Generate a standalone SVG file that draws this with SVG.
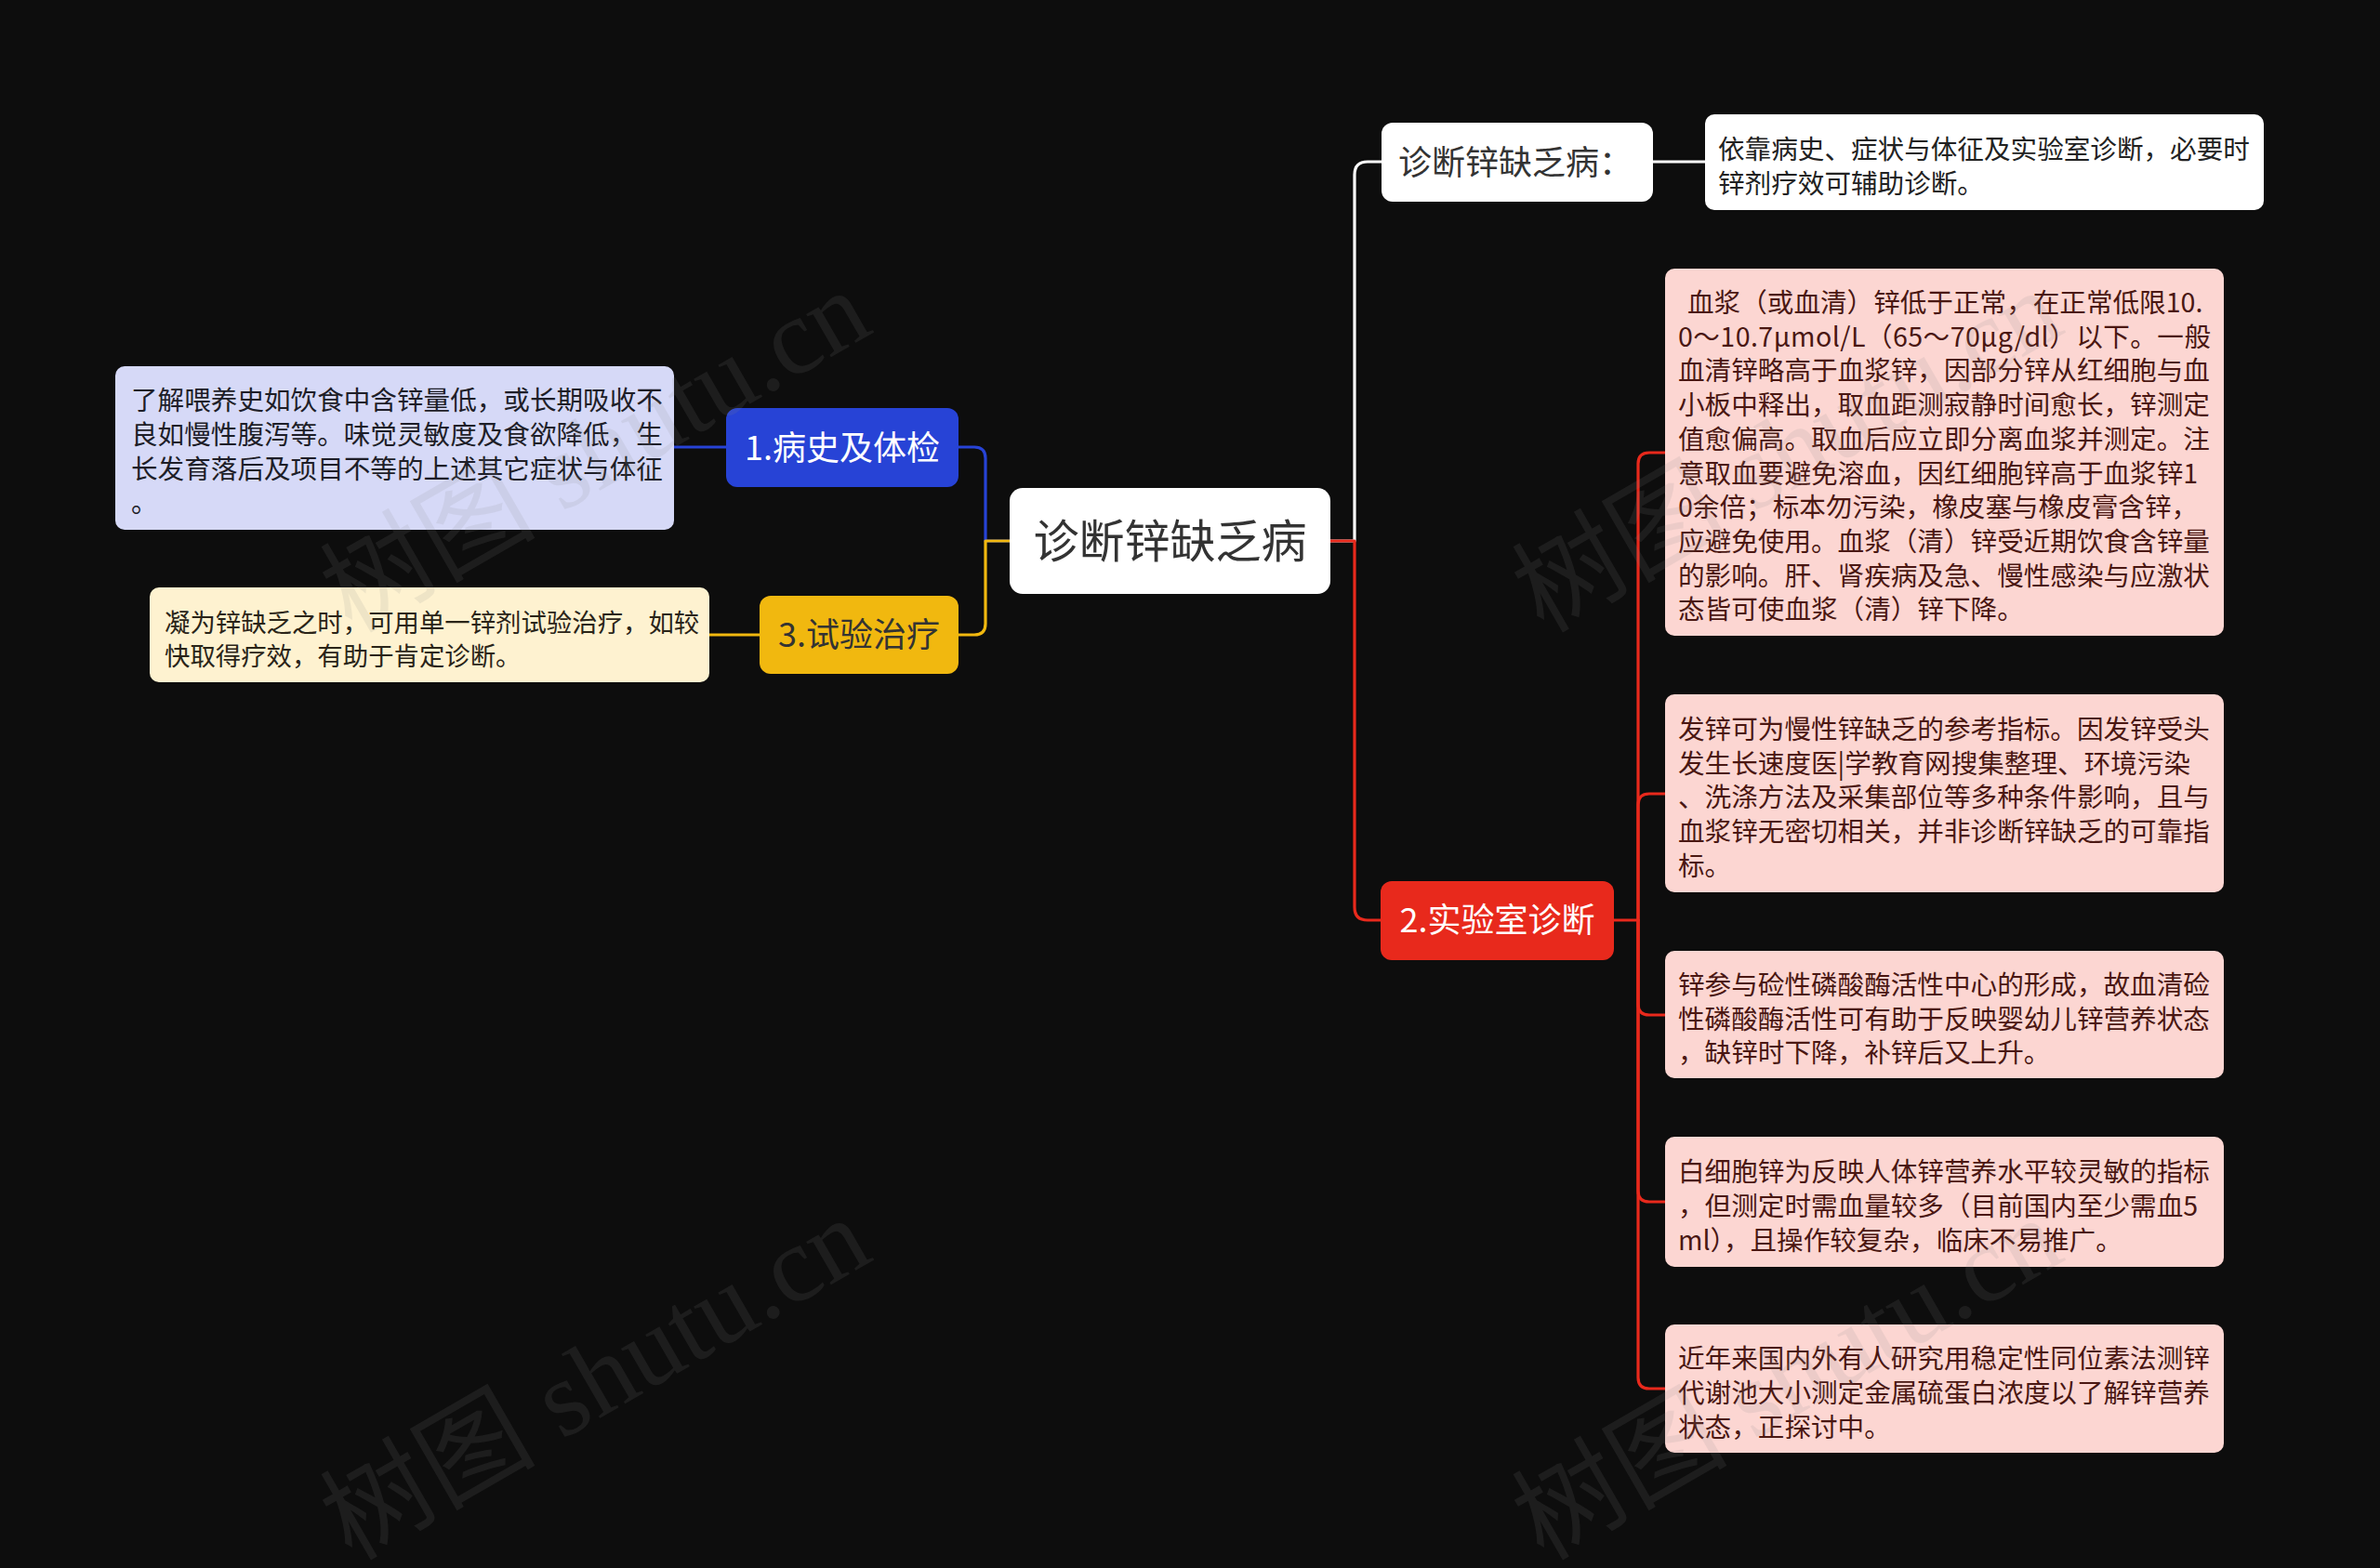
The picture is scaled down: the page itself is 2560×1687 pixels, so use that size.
<svg xmlns="http://www.w3.org/2000/svg" width="2560" height="1687" viewBox="0 0 2560 1687">
<style>
.bg{fill:#0d0d0d}
.cjk{font-family:"Noto Sans CJK SC","Noto Sans",sans-serif}
.leaf{font-size:28.6px}
.n1{font-size:36px}
.ctr{font-size:49px}
.conn{fill:none;stroke-width:3.2;stroke-linecap:round;stroke-linejoin:round}
.wm{font-family:"Liberation Serif","Noto Sans CJK SC",serif;font-size:116px;fill:#8a8a8a;opacity:0.13}
</style>
<rect class="bg" x="0" y="0" width="2560" height="1687"/>

<g id="connectors">
  <path class="conn" stroke="#2743d6" d="M1086,582 H1060 V493 Q1060,481 1048,481 H1031"/>
  <path class="conn" stroke="#2743d6" d="M781,481 H725"/>
  <path class="conn" stroke="#f1b80f" d="M1086,582 H1060 V671 Q1060,683 1048,683 H1031"/>
  <path class="conn" stroke="#f1b80f" d="M817,683 H763"/>
  <path class="conn" stroke="#ffffff" d="M1431,582 H1457 V188 Q1457,174 1471,174 H1486"/>
  <path class="conn" stroke="#ffffff" d="M1778,174 H1834"/>
  <path class="conn" stroke="#e8291c" d="M1431,582 H1457 V976 Q1457,990 1471,990 H1485"/>
  <path class="conn" stroke="#e8291c" d="M1736,990 H1762"/>
  <path class="conn" stroke="#e8291c" d="M1762,990 V499 Q1762,487 1774,487 H1791"/>
  <path class="conn" stroke="#e8291c" d="M1762,990 V866 Q1762,854 1774,854 H1791"/>
  <path class="conn" stroke="#e8291c" d="M1762,990 V1080 Q1762,1092 1774,1092 H1791"/>
  <path class="conn" stroke="#e8291c" d="M1762,990 V1281 Q1762,1293 1774,1293 H1791"/>
  <path class="conn" stroke="#e8291c" d="M1762,990 V1482 Q1762,1494 1774,1494 H1791"/>
</g>

<g id="node-center">
  <rect x="1086" y="525" width="345" height="114" rx="14" fill="#ffffff"/>
  <text class="cjk ctr" x="1258.5" y="600" text-anchor="middle" fill="#333333">诊断锌缺乏病</text>
</g>

<g id="node-1">
  <rect x="781" y="439" width="250" height="85" rx="12" fill="#2743d6"/>
  <text class="cjk n1" x="906" y="495" text-anchor="middle" fill="#ffffff">1.病史及体检</text>
</g>
<g id="leaf-1">
  <rect x="124" y="394" width="601" height="176" rx="10" fill="#d6d9f7"/>
  <text class="cjk leaf" fill="#1e1e28">
    <tspan x="141" y="441">了解喂养史如饮食中含锌量低，或长期吸收不</tspan>
    <tspan x="141" y="477.8">良如慢性腹泻等。味觉灵敏度及食欲降低，生</tspan>
    <tspan x="141" y="514.6">长发育落后及项目不等的上述其它症状与体征</tspan>
    <tspan x="141" y="551.4">。</tspan>
  </text>
</g>

<g id="node-3">
  <rect x="817" y="641" width="214" height="84" rx="12" fill="#f1b80f"/>
  <text class="cjk n1" x="924" y="696" text-anchor="middle" fill="#333333">3.试验治疗</text>
</g>
<g id="leaf-3">
  <rect x="161" y="632" width="602" height="102" rx="10" fill="#fef2d0"/>
  <text class="cjk" font-size="27.4" fill="#2a2418">
    <tspan x="177" y="679.6">凝为锌缺乏之时，可用单一锌剂试验治疗，如较</tspan>
    <tspan x="177" y="716.4">快取得疗效，有助于肯定诊断。</tspan>
  </text>
</g>

<g id="node-diag">
  <rect x="1486" y="132" width="292" height="85" rx="12" fill="#ffffff"/>
  <text class="cjk n1" x="1504" y="188" fill="#333333">诊断锌缺乏病：</text>
</g>
<g id="leaf-diag">
  <rect x="1834" y="123" width="601" height="103" rx="10" fill="#ffffff"/>
  <text class="cjk leaf" fill="#222222">
    <tspan x="1848" y="171">依靠病史、症状与体征及实验室诊断，必要时</tspan>
    <tspan x="1848" y="207.8">锌剂疗效可辅助诊断。</tspan>
  </text>
</g>

<g id="node-2">
  <rect x="1485" y="948" width="251" height="85" rx="12" fill="#e8291c"/>
  <text class="cjk n1" x="1610.5" y="1003" text-anchor="middle" fill="#ffffff">2.实验室诊断</text>
</g>

<g id="leaf-2a">
  <rect x="1791" y="289" width="601" height="395" rx="10" fill="#fcd6d2"/>
  <text class="cjk leaf" fill="#4a1712">
    <tspan x="1815" y="336">血浆（或血清）锌低于正常，在正常低限10.</tspan>
    <tspan x="1805" y="372.7" textLength="573" lengthAdjust="spacing">0～10.7μmol/L（65～70μg/dl）以下。一般</tspan>
    <tspan x="1805" y="409.4">血清锌略高于血浆锌，因部分锌从红细胞与血</tspan>
    <tspan x="1805" y="446.1">小板中释出，取血距测寂静时间愈长，锌测定</tspan>
    <tspan x="1805" y="482.8">值愈偏高。取血后应立即分离血浆并测定。注</tspan>
    <tspan x="1805" y="519.5">意取血要避免溶血，因红细胞锌高于血浆锌1</tspan>
    <tspan x="1805" y="556.2">0余倍；标本勿污染，橡皮塞与橡皮膏含锌，</tspan>
    <tspan x="1805" y="592.9">应避免使用。血浆（清）锌受近期饮食含锌量</tspan>
    <tspan x="1805" y="629.6">的影响。肝、肾疾病及急、慢性感染与应激状</tspan>
    <tspan x="1805" y="666.3">态皆可使血浆（清）锌下降。</tspan>
  </text>
</g>
<g id="leaf-2b">
  <rect x="1791" y="747" width="601" height="213" rx="10" fill="#fcd6d2"/>
  <text class="cjk leaf" fill="#4a1712">
    <tspan x="1805" y="795">发锌可为慢性锌缺乏的参考指标。因发锌受头</tspan>
    <tspan x="1805" y="831.7">发生长速度医|学教育网搜集整理、环境污染</tspan>
    <tspan x="1805" y="868.4">、洗涤方法及采集部位等多种条件影响，且与</tspan>
    <tspan x="1805" y="905.1">血浆锌无密切相关，并非诊断锌缺乏的可靠指</tspan>
    <tspan x="1805" y="941.8">标。</tspan>
  </text>
</g>
<g id="leaf-2c">
  <rect x="1791" y="1023" width="601" height="137" rx="10" fill="#fcd6d2"/>
  <text class="cjk leaf" fill="#4a1712">
    <tspan x="1805" y="1069.8">锌参与硷性磷酸酶活性中心的形成，故血清硷</tspan>
    <tspan x="1805" y="1106.5">性磷酸酶活性可有助于反映婴幼儿锌营养状态</tspan>
    <tspan x="1805" y="1143.2">，缺锌时下降，补锌后又上升。</tspan>
  </text>
</g>
<g id="leaf-2d">
  <rect x="1791" y="1223" width="601" height="140" rx="10" fill="#fcd6d2"/>
  <text class="cjk leaf" fill="#4a1712">
    <tspan x="1805" y="1271.3">白细胞锌为反映人体锌营养水平较灵敏的指标</tspan>
    <tspan x="1805" y="1308">，但测定时需血量较多（目前国内至少需血5</tspan>
    <tspan x="1805" y="1344.7">ml），且操作较复杂，临床不易推广。</tspan>
  </text>
</g>
<g id="leaf-2e">
  <rect x="1791" y="1425" width="601" height="138" rx="10" fill="#fcd6d2"/>
  <text class="cjk leaf" fill="#4a1712">
    <tspan x="1805" y="1472.3">近年来国内外有人研究用稳定性同位素法测锌</tspan>
    <tspan x="1805" y="1509">代谢池大小测定金属硫蛋白浓度以了解锌营养</tspan>
    <tspan x="1805" y="1545.7">状态，正探讨中。</tspan>
  </text>
</g>

<g id="watermarks">
  <text class="wm" transform="translate(378,682) rotate(-30)">树图 shutu.cn</text>
  <text class="wm" transform="translate(378,1680) rotate(-30)">树图 shutu.cn</text>
  <text class="wm" transform="translate(1660,682) rotate(-30)">树图 shutu.cn</text>
  <text class="wm" transform="translate(1660,1680) rotate(-30)">树图 shutu.cn</text>
</g>
</svg>
